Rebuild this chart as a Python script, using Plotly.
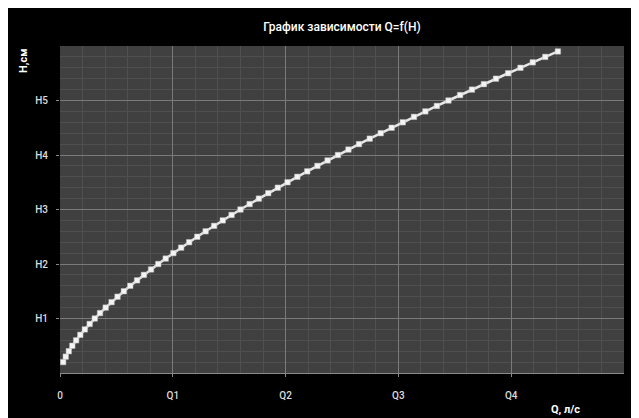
import plotly.graph_objects as go

# H values (cm) and flow Q (l/s)
H_values = [0.2, 0.3, 0.4, 0.5, 0.6, 0.7, 0.8, 0.9, 1.0, 1.1, 1.2, 1.3, 1.4, 1.5,
            1.6, 1.7, 1.8, 1.9, 2.0, 2.1, 2.2, 2.3, 2.4, 2.5, 2.6, 2.7, 2.8, 2.9,
            3.0, 3.1, 3.2, 3.3, 3.4, 3.5, 3.6, 3.7, 3.8, 3.9, 4.0, 4.1, 4.2, 4.3,
            4.4, 4.5, 4.6, 4.7, 4.8, 4.9, 5.0, 5.1, 5.2, 5.3, 5.4, 5.5, 5.6, 5.7,
            5.8, 5.9]
Q_values = [0.028, 0.051, 0.078, 0.109, 0.143, 0.180, 0.220, 0.263, 0.308, 0.355,
            0.405, 0.457, 0.510, 0.566, 0.623, 0.683, 0.744, 0.807, 0.871, 0.937,
            1.005, 1.074, 1.145, 1.217, 1.291, 1.366, 1.443, 1.521, 1.600, 1.681,
            1.763, 1.846, 1.931, 2.017, 2.104, 2.192, 2.282, 2.372, 2.464, 2.557,
            2.651, 2.746, 2.843, 2.940, 3.039, 3.138, 3.239, 3.341, 3.444, 3.547,
            3.652, 3.758, 3.865, 3.973, 4.082, 4.191, 4.302, 4.414]

x_tick_vals = [0, 1, 2, 3, 4]
x_tick_text = ["0", "Q1", "Q2", "Q3", "Q4"]
y_tick_vals = [1, 2, 3, 4, 5]
y_tick_text = ["H1", "H2", "H3", "H4", "H5"]

title_text = "График зависимости Q=f(H)"
x_title = "Q, л/с"
y_title = "H,см"

FONT = "Roboto"
TICK_COLOR = "#dcdcdc"

# page has an 8px body margin: figure is drawn 8px right/down
W, H = 631, 410
L, R, T, B = 52, 15, 38, 45
PW, PH = W - L - R, H - T - B


def px(xp):  # page x -> paper
    return (xp - 8 - L) / PW


def py(yp):  # page y -> paper
    return (H - B - (yp - 8)) / PH


fig = go.Figure()
fig.add_trace(go.Scatter(
    x=Q_values, y=H_values, mode="lines+markers",
    line=dict(color="#e8e8e8", width=2.5),
    marker=dict(symbol="square", size=5.5, color="#f4f4f4",
                line=dict(color="#b8b8b8", width=0.5)),
    showlegend=False, hoverinfo="x+y",
))

fig.update_layout(
    width=W, height=H,
    margin=dict(l=L, r=R, t=T, b=B),
    paper_bgcolor="black",
    plot_bgcolor="#404040",
    title=dict(text=title_text, x=0.5, xref="paper", xanchor="center",
               y=1 - (27 - 8) / H, yanchor="middle",
               font=dict(family=FONT, size=12, color="white", weight=500)),
    xaxis=dict(range=[0, 5], tickvals=x_tick_vals, ticktext=x_tick_text,
               showgrid=True, gridcolor="#7a7a7a", gridwidth=1,
               minor=dict(dtick=0.2, showgrid=True, gridcolor="#4f4f4f", gridwidth=1),
               showline=True, linecolor="#8a8a8a", linewidth=1,
               ticks="outside", ticklen=3, tickcolor="#8a8a8a",
               tickfont=dict(family=FONT, size=10, color=TICK_COLOR, weight=500),
               ticklabelstandoff=10, zeroline=False, fixedrange=True),
    yaxis=dict(range=[0, 6], tickvals=y_tick_vals, ticktext=y_tick_text,
               showgrid=True, gridcolor="#7a7a7a", gridwidth=1,
               minor=dict(dtick=0.2, showgrid=True, gridcolor="#4f4f4f", gridwidth=1),
               showline=False,
               ticks="outside", ticklen=3, tickcolor="#8a8a8a",
               tickfont=dict(family=FONT, size=10, color=TICK_COLOR, weight=500),
               ticklabelstandoff=6, zeroline=False, fixedrange=True),
    annotations=[
        dict(text="<b>" + y_title + "</b>", xref="paper", yref="paper",
             x=px(24), y=py(61), textangle=-90,
             showarrow=False, xanchor="center", yanchor="middle",
             font=dict(family=FONT, size=11, color="white")),
        dict(text="<b>" + x_title + "</b>", xref="paper", yref="paper",
             x=px(565), y=py(409),
             showarrow=False, xanchor="center", yanchor="middle",
             font=dict(family=FONT, size=11, color="white")),
    ],
)

fig.write_html("out.html")
